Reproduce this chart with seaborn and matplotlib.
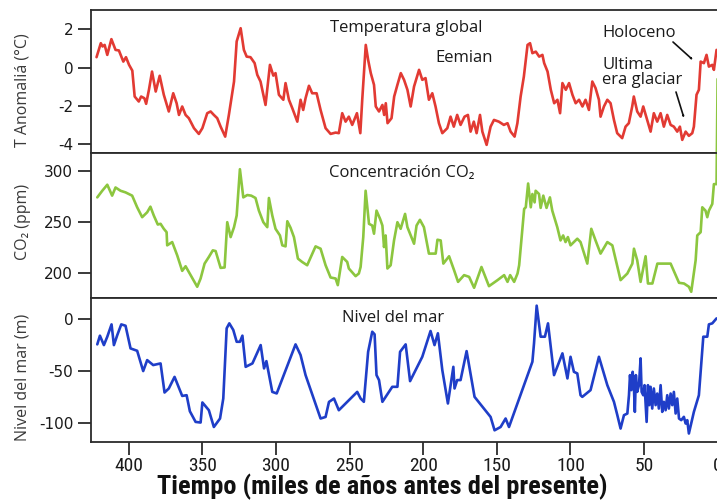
import matplotlib
matplotlib.use("Agg")
import matplotlib.pyplot as plt
import seaborn as sns
import pandas as pd

# ---------------- data ----------------
temp_t = [421.9, 419.0, 417.8, 416.4, 414.6, 411.8, 409.0, 406.7, 403.7, 401.9, 399.8, 397.6, 396.0, 393.2,
          391.6, 389.4, 388.2, 386.3, 384.2, 381.7, 379.0, 376.2, 372.8, 369.8, 367.5, 365.9, 363.7, 361.4,
          359.2, 355.7, 352.4, 350.0, 346.7, 344.4, 342.2, 339.9, 337.6, 334.5, 332.0, 328.5, 326.7, 324.0,
          321.8, 319.9, 317.3, 314.5, 312.7, 310.5, 307.1, 304.1, 301.8, 300.3, 298.0, 295.0, 293.5, 291.2,
          288.9, 285.5, 283.3, 281.5, 279.9, 277.6, 275.4, 272.4, 269.7, 266.3, 262.9, 259.5, 257.3, 255.0,
          252.7, 250.5, 248.2, 245.0, 242.7, 241.4, 239.0, 237.4, 235.6, 233.4, 232.2, 230.0, 227.7, 226.5,
          225.4, 224.2, 221.5, 219.7, 217.5, 215.2, 213.0, 210.7, 208.5, 206.2, 202.8, 200.6, 198.4, 196.1,
          193.8, 191.6, 189.3, 187.0, 183.6, 181.4, 179.2, 176.9, 174.6, 171.9, 169.6, 167.8, 165.6, 163.7,
          161.4, 159.8, 156.9, 154.2, 151.9, 148.6, 145.2, 142.7, 140.6, 137.9, 136.0, 133.8, 131.6, 129.1,
          127.4, 125.8, 123.5, 121.2, 119.0, 117.8, 115.5, 113.3, 111.0, 108.8, 107.0, 105.4, 103.1, 100.9,
          98.6, 96.4, 94.1, 91.8, 89.7, 87.4, 85.1, 82.9, 80.6, 79.5, 77.2, 74.9, 72.7, 70.4, 68.2, 64.8,
          62.5, 60.3, 58.0, 56.9, 54.6, 52.3, 50.5, 47.8, 45.5, 43.3, 41.0, 38.7, 36.5, 34.2, 31.9, 29.7,
          27.4, 25.6, 24.0, 21.7, 19.5, 17.2, 16.1, 14.3, 12.7, 11.5, 9.3, 7.5, 5.9, 3.6, 2.5, 0.7]
temp_v = [0.54, 1.27, 1.10, 1.18, 0.66, 1.48, 0.92, 0.89, 0.31, 0.54, 0.14, -0.16, -1.51, -1.77,
          -1.51, -1.60, -1.89, -1.16, -0.21, -1.25, -0.43, -1.42, -2.29, -1.34, -1.86, -2.47, -2.03, -2.47,
          -2.64, -3.16, -3.46, -3.16, -2.38, -2.29, -2.47, -2.64, -3.08, -3.60, -2.47, -0.73, 1.36, 2.05,
          0.92, 0.57, 0.54, 0.23, -0.38, -0.73, -1.95, 0.14, -0.42, -0.29, -1.42, -1.68, -0.81, -1.68,
          -2.12, -2.82, -1.68, -2.21, -1.60, -0.95, -1.34, -1.34, -2.21, -3.16, -3.46, -3.39, -3.42, -2.38,
          -2.82, -2.56, -2.99, -2.38, -3.42, -1.68, 1.18, 0.40, -0.29, -0.90, -2.03, -2.29, -1.95, -2.47,
          -1.86, -2.90, -2.64, -1.51, -0.90, -0.29, -0.64, -1.16, -2.03, -0.99, -0.12, -0.64, -0.55, -1.68,
          -1.34, -2.03, -2.90, -3.42, -3.16, -2.56, -3.08, -2.47, -2.99, -2.56, -2.47, -3.34, -2.82, -3.42,
          -2.47, -3.34, -4.03, -3.08, -2.73, -2.82, -2.99, -2.90, -3.34, -3.60, -2.90, -1.51, -0.47, 1.18,
          1.27, 0.75, 0.83, 0.57, 0.66, 0.23, -0.21, -1.16, -1.86, -1.68, -2.38, -0.81, -1.16, -0.81,
          -1.42, -1.86, -1.68, -2.03, -1.68, -2.21, -0.73, -1.07, -1.68, -2.56, -2.03, -1.68, -1.86, -2.73, -3.42, -3.68,
          -3.08, -2.90, -2.03, -1.51, -2.29, -2.56, -2.03, -2.73, -3.34, -2.38, -2.82, -2.38, -3.08, -2.47, -2.99, -3.08,
          -3.34, -3.08, -3.77, -3.34, -3.56, -3.42, -3.08, -1.42, -1.16, 0.31, 0.23, 0.66, 0.05, 0.14, -0.12, 0.92]

co2_t = [421.4, 418.0, 414.6, 411.3, 409.0, 405.6, 402.2, 397.7, 394.3, 390.9, 387.5, 385.3, 383.0, 380.3,
         378.4, 376.2, 374.3, 373.9, 370.5, 367.1, 363.7, 361.4, 358.0, 353.5, 351.2, 348.5, 345.6, 342.9,
         341.0, 337.6, 334.9, 333.1, 330.8, 328.5, 326.7, 324.5, 322.2, 319.5, 316.8, 313.9, 311.6, 308.6,
         305.9, 304.8, 302.5, 300.3, 297.3, 295.7, 293.5, 292.3, 290.1, 287.8, 285.1, 282.2, 278.8, 273.1,
         269.7, 266.3, 262.9, 259.5, 258.0, 255.0, 251.6, 250.5, 245.9, 243.7, 242.5, 240.7, 239.1, 236.8,
         234.6, 233.4, 231.7, 229.3, 227.7, 226.6, 225.5, 224.3, 222.1, 219.8, 217.5, 215.3, 212.3, 210.7,
         206.2, 204.5, 202.2, 199.5, 196.1, 191.5, 190.3, 188.1, 186.3, 182.4, 179.0, 176.3, 172.2, 168.8,
         165.4, 160.4, 155.3, 149.5, 145.0, 142.7, 140.9, 138.2, 135.9, 134.8, 133.7, 131.4, 130.3, 128.7,
         126.9, 125.8, 124.3, 123.6, 121.3, 120.2, 118.4, 116.2, 113.9, 112.3, 108.9, 106.7, 104.9, 103.3,
         101.7, 99.9, 95.3, 93.1, 88.5, 85.8, 82.9, 79.5, 74.9, 71.5, 65.9, 61.3, 57.9, 56.8, 54.6, 52.3,
         48.9, 47.3, 44.3, 40.9, 31.9, 26.2, 22.8, 19.5, 17.9, 14.9, 13.8, 11.5, 10.4, 8.2, 7.0, 5.9, 3.6,
         2.5, 0.7, 0.0]
co2_v = [274.0, 280.5, 286.4, 275.7, 283.7, 280.5, 278.9, 275.7, 264.3, 254.6, 259.4, 264.9, 256.2, 247.4,
         248.1, 243.2, 239.9, 227.0, 230.2, 217.2, 202.0, 206.5, 197.8, 186.4, 194.5, 209.1, 215.6, 222.1,
         221.4, 204.9, 205.3, 249.7, 235.1, 244.8, 256.2, 301.6, 274.0, 276.3, 275.7, 273.4, 261.0, 249.7,
         244.8, 273.4, 256.2, 243.2, 236.7, 227.0, 226.0, 250.6, 244.2, 235.1, 214.0, 210.7, 207.5, 226.0,
         223.7, 207.5, 195.5, 194.5, 188.0, 215.6, 210.7, 204.3, 196.8, 199.4, 205.8, 235.1, 280.5, 248.1,
         246.4, 238.4, 261.0, 253.0, 246.4, 225.3, 236.7, 204.3, 207.5, 231.8, 249.7, 243.2, 257.8, 244.8,
         228.6, 246.4, 252.0, 244.8, 218.9, 218.9, 232.5, 231.8, 209.1, 216.3, 202.6, 191.2, 197.8, 196.1,
         185.4, 205.8, 187.0, 192.9, 197.8, 191.2, 197.8, 191.2, 199.4, 207.5, 225.3, 262.7, 264.3, 287.6,
         264.3, 277.3, 269.1, 280.5, 277.3, 263.7, 275.7, 263.7, 274.0, 261.0, 244.8, 231.8, 236.7, 230.2,
         235.1, 227.0, 233.5, 230.2, 209.1, 243.2, 231.8, 218.9, 230.2, 227.0, 192.9, 199.4, 209.1, 223.7, 212.4, 191.2,
         216.3, 189.6, 189.6, 209.1, 209.1, 190.3, 189.6, 186.4, 181.5, 212.4, 236.7, 239.9, 264.3, 261.0, 254.6, 261.0, 267.6,
         287.0, 287.0, 390.0]

sea_t = [421.4, 419.6, 416.9, 414.6, 411.7, 410.1, 407.8, 405.1, 402.2, 398.8, 394.3, 390.2, 387.5, 383.4,
         378.4, 375.7, 372.8, 368.9, 363.7, 360.7, 358.5, 354.6, 351.2, 350.0, 345.6, 342.2, 338.0, 335.8,
         333.5, 331.7, 329.0, 326.7, 324.5, 322.8, 320.6, 316.0, 310.4, 308.1, 306.5, 302.5, 299.5, 286.7,
         283.3, 279.9, 269.7, 266.3, 264.0, 260.6, 257.3, 244.8, 242.5, 240.3, 237.4, 234.6, 233.0, 231.7,
         230.0, 227.7, 221.0, 217.5, 215.7, 211.9, 208.9, 200.6, 195.0, 192.3, 190.0, 187.0, 183.2, 179.5,
         178.7, 176.9, 174.6, 170.5, 165.1, 154.2, 151.5, 147.4, 144.0, 141.7, 125.8, 124.7, 122.9, 120.2,
         117.3, 115.2, 111.1, 105.4, 102.0, 99.9, 97.6, 95.3, 93.1, 91.9, 86.3, 80.6, 74.9, 70.4, 68.1,
         65.9, 63.6, 61.3, 60.2, 59.5, 58.6, 57.7, 56.8, 56.2, 55.5, 54.6, 53.4, 52.3, 51.6, 50.5, 49.6,
         48.2, 47.3, 46.4, 45.5, 44.4, 43.3, 42.1, 41.0, 39.9, 38.7, 37.6, 36.5, 35.3, 34.2, 33.1, 31.9,
         30.8, 29.7, 28.5, 27.4, 26.2, 24.7, 22.9, 21.7, 20.6, 19.5, 16.1, 12.7, 9.7, 7.0, 5.9, 3.6, 0.7]
sea_v = [-24.5, -16.1, -25.2, -17.1, -5.2, -25.2, -15.5, -5.2, -6.5, -28.4, -30.7, -50.3, -39.7, -44.5,
         -42.9, -71.0, -67.1, -55.9, -74.3, -73.6, -89.1, -99.4, -100.0, -80.6, -88.1, -104.3, -96.1, -76.8,
         -9.0, -4.2, -10.6, -22.0, -22.0, -16.1, -46.2, -42.9, -25.2, -47.7, -40.7, -70.4, -71.9, -24.5,
         -34.8, -54.2, -96.1, -94.6, -80.1, -76.8, -88.1, -70.4, -76.8, -80.0, -31.7, -12.3, -14.8, -54.2,
         -59.0, -80.0, -65.5, -65.5, -31.7, -24.5, -60.0, -36.5, -11.6, -25.2, -13.8, -49.4, -81.6, -46.2,
         -67.1, -59.0, -59.0, -31.0, -75.2, -94.6, -107.5, -104.3, -96.1, -104.3, -41.3, -23.5, 12.9, -17.1,
         -17.1, -4.2, -54.2, -33.2, -57.4, -36.5, -51.0, -52.6, -73.6, -75.2, -68.7, -36.5, -63.9, -80.0, -92.9,
         -105.8, -92.9, -91.3, -73.6, -54.2, -68.7, -51.0, -67.1, -89.7, -54.2, -70.4, -63.9, -38.0, -70.4, -73.6, -63.9,
         -99.4, -63.9, -83.2, -65.5, -86.5, -67.1, -83.2, -72.0, -86.5, -63.9, -89.7, -80.0, -88.1, -73.6, -86.5, -72.0,
         -83.2, -70.4, -91.3, -76.8, -96.1, -97.7, -94.5, -101.0, -97.7, -110.6, -89.7, -73.6, -17.1, -17.1, -5.2, -4.2, 0.6]

x_ticks = [400, 350, 300, 250, 200, 150, 100, 50, 0]
temp_ticks = [2, 0, -2, -4]
co2_ticks = [300, 250, 200]
sea_ticks = [0, -50, -100]

# ---------------- style ----------------
sns.set_theme(style="ticks")
plt.rcParams["font.family"] = ["DejaVu Sans"]
plt.rcParams["axes.unicode_minus"] = False

NARROW = ["Roboto Condensed", "Open Sans Condensed", "DejaVu Sans"]

W, H = 717, 501
fig = plt.figure(figsize=(W / 100, H / 100), dpi=100)

def fx(px):
    return px / W

def fy(py):
    return 1 - py / H

LEFT, RIGHT = 90.5, 732.3
panels = [(10, 153.3), (153.3, 298.3), (298.3, 442)]
axes = [fig.add_axes([fx(LEFT), fy(b), (RIGHT - LEFT) / W, (b - t) / H]) for t, b in panels]
ax1, ax2, ax3 = axes

RED, GREEN, BLUE = "#e23a33", "#8cc63f", "#1f3ec8"
LW = 1.9
df_t = pd.DataFrame({"t": temp_t, "v": temp_v})
df_c = pd.DataFrame({"t": co2_t, "v": co2_v})
df_s = pd.DataFrame({"t": sea_t, "v": sea_v})
sns.lineplot(data=df_t, x="t", y="v", ax=ax1, color=RED, lw=LW, sort=False, estimator=None)
sns.lineplot(data=df_c, x="t", y="v", ax=ax2, color=GREEN, lw=LW, sort=False, estimator=None)
ax2.lines[-1].set_clip_on(False)
sns.lineplot(data=df_s, x="t", y="v", ax=ax3, color=BLUE, lw=LW, sort=False, estimator=None)

ylims = [(-4.47, 3.0), (175.1, 317.2), (-118.8, 20.0)]
yticks = [temp_ticks, co2_ticks, sea_ticks]
SPINE = "#2b2b2b"
for ax, yl, yt in zip(axes, ylims, yticks):
    ax.set_xlim(426, -10)
    ax.set_ylim(*yl)
    ax.set_yticks(yt)
    ax.set_yticklabels([str(v) for v in yt])
    ax.set_xlabel("")
    ax.set_ylabel("")
    ax.spines["right"].set_visible(False)
    for s in ("top", "bottom", "left"):
        ax.spines[s].set_color(SPINE)
        ax.spines[s].set_linewidth(1.3)
    ax.tick_params(axis="y", direction="out", length=9.5, width=1.3, color=SPINE,
                   labelsize=11, labelcolor="#1a1a1a", pad=3)
    ax.set_facecolor("white")

for ax in (ax1, ax2):
    ax.set_xticks([])
ax3.set_xticks(x_ticks)
ax3.set_xticklabels([str(v) for v in x_ticks])
ax3.tick_params(axis="x", direction="out", length=9.5, width=1.3, color=SPINE, pad=1.5,
                labelsize=14, labelcolor="#1a1a1a")
for lab in ax3.get_xticklabels():
    lab.set_family(NARROW)
    lab.set_stretch("condensed")

fig.text(fx(382), fy(487), "Tiempo (miles de años antes del presente)", ha="center", va="center",
         fontsize=19, fontweight="bold", family=NARROW, fontstretch="condensed", color="#111111")

YL = dict(rotation=90, ha="center", va="center", fontsize=11.5, color="#3a3a3a",
          family=["Open Sans", "DejaVu Sans"])
fig.text(fx(23), fy(90.5), "T Anomaliá (°C)", **YL)
fig.text(fx(23), fy(222), "CO₂ (ppm)", **YL)
fig.text(fx(23), fy(377), "Nivel del mar (m)", **YL)

TX = dict(fontsize=12, color="#1a1a1a", family=["Open Sans", "DejaVu Sans"], va="center")
fig.text(fx(406.5), fy(28), "Temperatura global", ha="center", **TX)
fig.text(fx(464), fy(58), "Eemian", ha="center", **TX)
fig.text(fx(602), fy(33), "Holoceno", ha="left", **TX)
fig.text(fx(602), fy(72.5), "Ultima\nera glaciar", ha="left", linespacing=0.95, **TX)
fig.text(fx(401.5), fy(173), "Concentración CO₂", ha="center", **TX)
fig.text(fx(393), fy(318), "Nivel del mar", ha="center", **TX)

AP = dict(arrowstyle="-|>,head_length=0.6,head_width=0.25", color="#111111", lw=1.2,
          shrinkA=0, shrinkB=0)
fig.add_artist(matplotlib.patches.FancyArrowPatch((fx(673), fy(42)), (fx(693), fy(60)),
                                                  transform=fig.transFigure, **AP))
fig.add_artist(matplotlib.patches.FancyArrowPatch((fx(676), fy(92)), (fx(684), fy(118)),
                                                  transform=fig.transFigure, **AP))

fig.savefig("out.png", dpi=100)
